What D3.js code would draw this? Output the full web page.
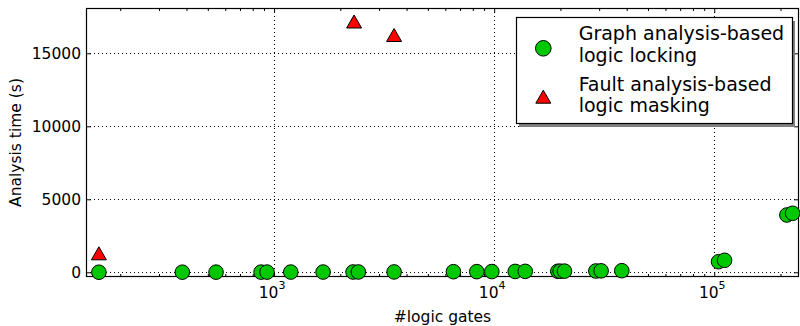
<!DOCTYPE html>
<html><head><meta charset="utf-8">
<script src="https://cdn.jsdelivr.net/npm/d3@7"></script>
<style>
body{margin:0;background:#fff;}
svg{display:block;font-family:"DejaVu Sans",sans-serif;}
</style></head>
<body><svg id="c" width="800" height="326"></svg>
<script>
// Data
const graphGates = [160, 383, 545, 873, 929, 1191, 1670, 2285, 2416, 3510, 6530, 8340, 9760, 12460, 13840, 19470, 19950, 20870, 28970, 30620, 38020, 104600, 111400, 213800, 227000];
const graphTime  = [5, 8, 10, 12, 14, 16, 18, 20, 22, 25, 40, 45, 50, 60, 65, 70, 75, 80, 90, 100, 110, 726, 822, 3925, 4041];
const faultGates = [160, 2310, 3510];
const faultTime  = [1301, 17178, 16253];
const xMajorTicks = [1e3, 1e4, 1e5];
const xTickExp = ["3", "4", "5"];
const yTicks = [0, 5000, 10000, 15000];
const seriesNames = [["Graph analysis-based", "logic locking"], ["Fault analysis-based", "logic masking"]];

const svg = d3.select("#c");
const L = 86, R = 799, T = 8, B = 277;
const x = d3.scaleLog().domain([139.8, 242700]).range([L, R]);
const y = d3.scaleLinear().domain([-322, 18103]).range([B, T]);

const green = "#00c800", red = "#ff0000";

// grid
const grid = svg.append("g").attr("stroke", "#000").attr("stroke-width", 1).attr("stroke-dasharray", "1,3");
xMajorTicks.forEach(v => grid.append("line").attr("x1", Math.round(x(v)) + 0.5).attr("x2", Math.round(x(v)) + 0.5).attr("y1", T).attr("y2", B));
yTicks.forEach(v => grid.append("line").attr("y1", Math.round(y(v)) + 0.5).attr("y2", Math.round(y(v)) + 0.5).attr("x1", L).attr("x2", R));

// minor ticks
const minor = [];
for (let e = 2; e <= 5; e++) for (let m = 2; m <= 9; m++) {
  const v = m * Math.pow(10, e);
  if (v >= x.domain()[0] && v <= x.domain()[1]) minor.push(v);
}

// axes
const axB = d3.axisBottom(x).tickValues(xMajorTicks).tickSize(-5).tickFormat("");
const axT = d3.axisTop(x).tickValues(xMajorTicks).tickSize(-5).tickFormat("");
const axBm = d3.axisBottom(x).tickValues(minor).tickSize(-3).tickFormat("");
const axTm = d3.axisTop(x).tickValues(minor).tickSize(-3).tickFormat("");
const axL = d3.axisLeft(y).tickValues(yTicks).tickSize(-5).tickPadding(5).tickFormat(d3.format("d"));
const axR = d3.axisRight(y).tickValues(yTicks).tickSize(-5).tickFormat("");

function style(g) { g.select(".domain").remove(); g.selectAll("line").attr("stroke", "#000"); }
svg.append("g").attr("transform", `translate(0,${B})`).call(axB).call(style);
svg.append("g").attr("transform", `translate(0,${T})`).call(axT).call(style);
svg.append("g").attr("transform", `translate(0,${B})`).call(axBm).call(style);
svg.append("g").attr("transform", `translate(0,${T})`).call(axTm).call(style);
const gl = svg.append("g").attr("transform", `translate(${L},0)`).call(axL).call(style);
gl.selectAll("text").attr("font-size", 15.5).attr("font-family", "DejaVu Sans").attr("fill", "#000").attr("dy", "0.35em");
svg.append("g").attr("transform", `translate(${R},0)`).call(axR).call(style);

// x tick labels with superscripts
xMajorTicks.forEach((v, i) => {
  const t = svg.append("text").attr("x", x(v) - 2).attr("y", 298).attr("text-anchor", "middle").attr("font-size", 15.5).attr("fill", "#000");
  t.append("tspan").text("10");
  t.append("tspan").attr("dy", -9).attr("font-size", 11).text(xTickExp[i]);
});

// frame
svg.append("rect").attr("x", L + 0.5).attr("y", T + 0.5).attr("width", R - L - 1).attr("height", B - T - 1)
  .attr("fill", "none").attr("stroke", "#000").attr("stroke-width", 1.2);

// axis labels
svg.append("text").attr("x", (L + R) / 2).attr("y", 322).attr("text-anchor", "middle").attr("font-size", 15.5).text("#logic gates");
svg.append("text").attr("transform", `translate(21,${(T + B) / 2}) rotate(-90)`).attr("text-anchor", "middle").attr("font-size", 15.5).text("Analysis time (s)");

// markers
const triPath = "M0,-6.5L-7.5,6.5L7.5,6.5Z";
const pts = svg.append("g");
pts.selectAll("circle.g").data(graphGates.map((g, i) => [g, graphTime[i]])).enter().append("circle")
  .attr("cx", d => x(d[0])).attr("cy", d => y(d[1])).attr("r", 7.3)
  .attr("fill", green).attr("stroke", "#000").attr("stroke-width", 1);
pts.selectAll("path.t").data(faultGates.map((g, i) => [g, faultTime[i]])).enter().append("path")
  .attr("d", triPath).attr("transform", d => `translate(${x(d[0])},${y(d[1])})`)
  .attr("fill", red).attr("stroke", "#000").attr("stroke-width", 1);

// legend
const lg = svg.append("g");
lg.append("rect").attr("x", 519).attr("y", 21).attr("width", 276).attr("height", 106).attr("fill", "#808080");
lg.append("rect").attr("x", 516.5).attr("y", 17.5).attr("width", 276).attr("height", 106).attr("fill", "#fff").attr("stroke", "#000").attr("stroke-width", 1.2);
lg.append("circle").attr("cx", 543.3).attr("cy", 48.3).attr("r", 7.8).attr("fill", green).attr("stroke", "#000");
lg.append("path").attr("d", triPath).attr("transform", "translate(543.3,96.7)").attr("fill", red).attr("stroke", "#000");
const baselines = [[40, 61.7], [90.5, 111.5]];
seriesNames.forEach((lines, i) => lines.forEach((s, j) => {
  lg.append("text").attr("x", 578.7).attr("y", baselines[i][j]).attr("font-size", 19).attr("fill", "#000").text(s);
}));
</script></body></html>
